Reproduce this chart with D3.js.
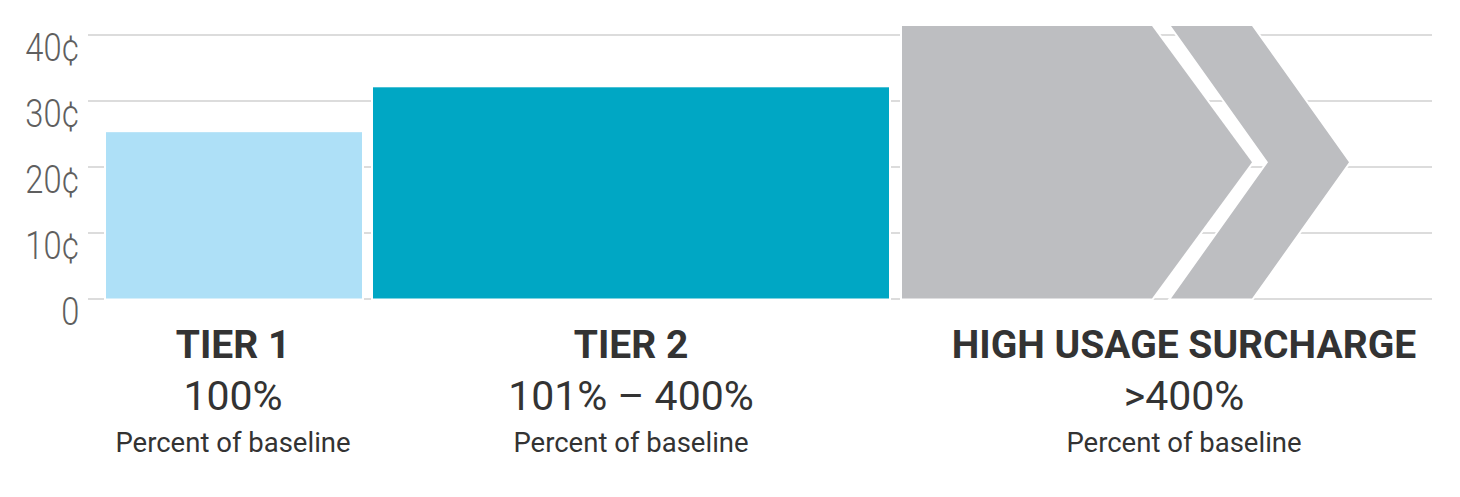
<!DOCTYPE html>
<head>
  <meta charset="utf-8">
  <script src="https://cdn.jsdelivr.net/npm/d3@7"></script>
  <style>
    body { margin:0; background:#fff; }
    .grid line { stroke: #dcdcdc; stroke-width: 2px; }
    .grid text { fill: #5f5f5f; font-family: Roboto, sans-serif; font-weight: 300; font-size: 38px; }
    .cat { fill: #333; font-family: Roboto, sans-serif; text-anchor: middle; }
  </style>
</head>

<body>
  <script>
    // chart data
    var categories = ["TIER 1", "TIER 2", "HIGH USAGE SURCHARGE"];
    var usage = ["100%", "101% \u2013 400%", ">400%"];
    var usageNote = ["Percent of baseline", "Percent of baseline", "Percent of baseline"];
    var rates = [25.2, 32, 41.3];   // cents per kWh
    var colors = ["#aee0f7", "#00a7c4", "#bdbec1"];
    var yTicks = [0, 10, 20, 30, 40];
    var yTickLabels = ["0", "10\u00a2", "20\u00a2", "30\u00a2", "40\u00a2"];

    var width = 1460, height = 497;

    var svg = d3.select("body").append("svg")
        .attr("width", width)
        .attr("height", height);

    // value scale
    var y = d3.scaleLinear().domain([0, 40]).range([298.5, 34.5]);

    // each tier has its own slot along the bottom
    var x0 = d3.scaleOrdinal().domain(categories).range([106, 373, 902]);
    var x1 = d3.scaleOrdinal().domain(categories).range([362, 889, 1152]);
    var labelX = d3.scaleOrdinal().domain(categories).range([233, 631, 1184]);

    var gridLeft = 88, gridRight = 1432;

    // gridlines + tick labels
    var axis = svg.append("g")
        .attr("class", "grid")
        .attr("transform", "translate(" + gridLeft + ",0)")
        .call(d3.axisLeft(y)
          .tickValues(yTicks)
          .tickFormat(function(d, i) { return yTickLabels[i]; })
          .tickSize(-(gridRight - gridLeft))
          .tickPadding(10));
    axis.select(".domain").remove();
    axis.selectAll("text")
        .attr("dy", 26)
        .attr("transform", "scale(0.86,1)");

    var data = categories.map(function(c, i) {
      return {cat: c, rate: rates[i], color: colors[i], usage: usage[i], note: usageNote[i]};
    });

    // first two tiers are plain bars
    svg.selectAll(".bar").data(data.slice(0, 2)).enter()
      .append("rect")
        .attr("class", "bar")
        .attr("x", function(d) { return x0(d.cat); })
        .attr("y", function(d) { return y(d.rate); })
        .attr("width", function(d) { return x1(d.cat) - x0(d.cat); })
        .attr("height", function(d) { return y(0) - y(d.rate); })
        .attr("fill", function(d) { return d.color; })
        .attr("stroke", "#fff")
        .attr("stroke-width", 4)
        .style("paint-order", "stroke");

    // surcharge drawn as a double arrow
    var s = data[2];
    var yTop = y(s.rate), yBot = y(0), yMid = (yTop + yBot) / 2;
    var tip = 100, gap = 19, band = 81;
    var a = x0(s.cat), b = x1(s.cat);
    var arrows = [
      [[a, yTop], [b, yTop], [b + tip, yMid], [b, yBot], [a, yBot]],
      [[b + gap, yTop], [b + gap + band, yTop], [b + gap + band + tip - 3, yMid],
       [b + gap + band, yBot], [b + gap, yBot], [b + gap + tip - 3, yMid]]
    ];
    svg.selectAll(".arrow").data(arrows).enter()
      .append("path")
        .attr("class", "arrow")
        .attr("d", function(p) { return d3.line()(p) + "Z"; })
        .attr("fill", s.color)
        .attr("stroke", "#fff")
        .attr("stroke-width", 4)
        .style("paint-order", "stroke");

    // labels under each tier
    var lab = svg.selectAll(".lab").data(data).enter()
      .append("g")
        .attr("class", "lab")
        .attr("transform", function(d) { return "translate(" + labelX(d.cat) + ",0)"; });

    lab.append("text")
        .attr("class", "cat")
        .attr("y", 358)
        .style("font-size", "39px")
        .style("font-weight", 700)
        .text(function(d) { return d.cat; });

    lab.append("text")
        .attr("class", "cat")
        .attr("y", 410)
        .style("font-size", "41px")
        .style("font-weight", 400)
        .text(function(d) { return d.usage; });

    lab.append("text")
        .attr("class", "cat")
        .attr("y", 452)
        .style("font-size", "27.5px")
        .style("font-weight", 400)
        .text(function(d) { return d.note; });
  </script>
</body>
